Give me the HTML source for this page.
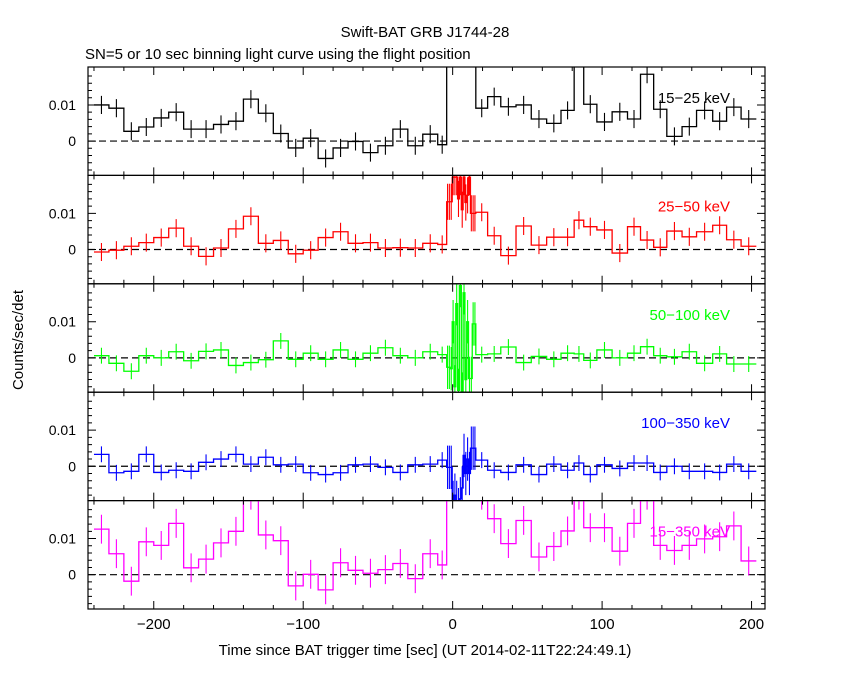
<!DOCTYPE html>
<html><head><meta charset="utf-8"><style>
body{margin:0;background:#fff;}
svg text{font-family:"Liberation Sans",sans-serif;}
</style></head><body>
<svg id="chart" width="850" height="680" xmlns="http://www.w3.org/2000/svg">
<rect width="850" height="680" fill="#fff"/>
<text x="425" y="37" font-size="15" text-anchor="middle">Swift-BAT GRB J1744-28</text>
<text x="85" y="59" font-size="15">SN=5 or 10 sec binning light curve using the flight position</text>
<text transform="translate(23,340) rotate(-90)" font-size="15" text-anchor="middle">Counts/sec/det</text>
<text x="425" y="655" font-size="15" text-anchor="middle">Time since BAT trigger time [sec] (UT 2014-02-11T22:24:49.1)</text>
<g id="plots"></g>
</svg>
<script>
const edges=[-240,-230,-220,-210,-200,-190,-180,-170,-160,-150,-140,-130,-120,-110,-100,-90,-80,-70,-60,-50,-40,-30,-20,-10,-4,
-2.8,-1.6,-0.3,0.9,2.1,3.3,4.5,5.8,7.0,8.2,9.4,10.6,11.9,13.1,14.3,15.5,
23.4,32.2,42.4,52.6,62.9,72.5,81.3,87.7,96.5,106.7,117,125.7,134.5,143.3,153.5,163.2,174,183.3,193,203.2];
const bandLabels=["15\u221225 keV","25\u221250 keV","50\u2212100 keV","100\u2212350 keV","15\u2212350 keV"];
const bandColors=["#000000","#ff0000","#00ff00","#0000ff","#ff00ff"];
const vals15_25=[10.0,9.1,2.7,3.9,6.4,8.0,3.3,3.3,4.6,5.5,11.6,7.7,2.1,-1.9,0.8,-4.8,-1.9,-0.1,-3.2,-1.3,3.3,-1.3,1.9,-1.0,
25,25,25,25,25,25,25,25,25,25,25,25,25,25,25,25,
9.1,12.3,9.5,10.0,6.1,4.9,8.5,30,10.2,5.3,8.1,6.1,18.5,8.8,1.3,4.0,8.5,5.5,9.4,6.1];
const vals25_50=[-0.7,-0.2,0.9,1.9,3.3,5.9,0.9,-1.9,0.4,5.7,9.2,1.7,2.5,-1.2,-0.2,3.3,4.9,1.7,1.9,0.4,0.5,0.4,1.7,1.4,
13.2,13.2,13.2,20,20,20,14,20,11,20,13,15,20,10,10,10,
10.3,3.8,-1.7,6.5,1.2,3.4,3.4,8.1,6.3,5.4,-1.0,6.3,2.6,0.6,5.1,3.5,4.9,6.7,2.7,0.9];
const vals50_100=[0.6,-1.5,-3.7,0.6,0,1.7,-0.8,1.8,2.2,-2.1,-1.3,-0.5,4.7,-0.4,1.3,-0.4,2.2,-0.4,1.3,2.8,0.6,0,1.7,0.9,
-2.6,-2.6,-3,10,-8,15,-9,20,-10,18,-6,10,-5.7,-5.7,9.4,9.4,
0.9,1.1,3.0,-1.3,0.4,-0.4,1.3,1.1,-0.7,2.2,0,1.3,3.1,0.6,0.3,1.7,-1.5,1.1,-1.7,-1.7];
const vals100_350=[3.3,-1.8,-1.4,3.3,-1.7,-1.1,-1.4,1.1,2.0,3.3,0.6,2.5,0.4,0.6,-1.8,-2.3,-1.8,0.4,0.6,-0.3,-1.7,0.4,0.6,1.7,
-0.3,-0.3,-0.3,-10,-8,-10,-12,-9,-6,3,-2,2,-2,5,5,5,
1.7,-1.1,-1.7,0.4,-2.3,0.6,-1.1,0.9,-2.3,0.4,-0.6,0.9,0.9,-1.7,0,-1.4,-1.4,-1.7,0.6,-1.4];
const vals15_350=[12.6,5.8,-1.8,9.1,8.1,14.2,1.9,4.3,8.8,12.0,22,11.0,9.4,-3.1,0.1,-4.2,3.3,1.2,0.4,1.4,3.1,-1.1,5.8,2.7,
22,22,22,22,22,22,22,22,22,22,22,22,22,22,22,22,
22,15.5,8.6,15,4.9,7.8,12.1,22,13,13,6.5,14.2,22,8.1,6.7,8.1,9.9,10.5,13.5,3.8];
const errBase=[2.5,2.5,2.2,2.2,4.0];
const errSpike=[0.5,5,6,6,0.5];
const xTicks=[-200,-100,0,100,200];
const yTicks=[0,0.01];
const yTickLabels=["0","0.01"];

const series=[vals15_25,vals25_50,vals50_100,vals100_350,vals15_350];
const L=88,R=765,T0=67,PH=108.4,X0=-244,X1=209,Y0=-0.0095,Y1=0.0205;
const NS="http://www.w3.org/2000/svg";
const xs=t=>L+(t-X0)/(X1-X0)*(R-L);
function ysFor(i){const top=T0+i*PH;return v=>top+(Y1-v)/(Y1-Y0)*PH;}
function mk(tag,attrs,parent){const e=document.createElementNS(NS,tag);for(const k in attrs)e.setAttribute(k,attrs[k]);parent.appendChild(e);return e;}
const root=document.getElementById('plots');
const defs=mk('defs',{},root);
series.forEach((vals,i)=>{
  const top=T0+i*PH,bot=top+PH,ys=ysFor(i),col=bandColors[i];
  const g=mk('g',{},root);
  
  
  const cp=mk('clipPath',{id:'cp'+i},defs);
  mk('rect',{x:L,y:top,width:R-L,height:PH},cp);
  const dg=mk('g',{'clip-path':'url(#cp'+i+')'},g);
  const z=mk('line',{x1:L,x2:R,y1:ys(0),y2:ys(0),stroke:'#000','stroke-dasharray':'7,4','stroke-width':1.2},dg);
  
  
  let d='M'+xs(edges[0])+','+ys(vals[0]/1000);
  for(let k=0;k<vals.length;k++){
    if(k>0)d+='V'+ys(vals[k]/1000);
    d+='H'+xs(edges[k+1]);
  }
  const p=mk('path',{d:d,fill:'none',stroke:col,'stroke-width':1.3},dg);
  
  
  let ed='';
  for(let k=0;k<vals.length;k++){
    const c=(edges[k]+edges[k+1])/2;
    const e=(k>=24&&k<40?errSpike[i]:errBase[i])/1000;
    ed+='M'+xs(c)+','+ys(vals[k]/1000-e)+'V'+ys(vals[k]/1000+e);
  }
  const eb=mk('path',{d:ed,fill:'none',stroke:col,'stroke-width':1.1},dg);
  
  
  const fr=mk('rect',{x:L,y:top,width:R-L,height:PH,fill:'none',stroke:'#000','stroke-width':1.2},g);
  
  
  let td='';
  for(let t=-240;t<=200;t+=20){
    const len=(t%100===0)?8:4;
    td+='M'+xs(t)+','+bot+'v'+(-len)+'M'+xs(t)+','+top+'v'+len;
  }
  for(let v=-0.008;v<=0.02;v+=0.002){
    const vv=Math.round(v*1000);
    const len=(vv%10===0)?8:4;
    td+='M'+L+','+ys(v)+'h'+len+'M'+R+','+ys(v)+'h'+(-len);
  }
  const tk=mk('path',{d:td,stroke:'#000','stroke-width':1,fill:'none'},g);
  
  
  yTicks.forEach((v,j)=>{
    const tx=mk('text',{x:76,y:ys(v)+5,'font-size':14,'text-anchor':'end'},g);
    tx.textContent=yTickLabels[j];
    
    
  });
  const lb=mk('text',{x:730,y:top+36,'font-size':15,'text-anchor':'end',fill:col},g);
  lb.textContent=bandLabels[i];
  
  
});
const botY=T0+5*PH;
xTicks.forEach(t=>{
  const tx=mk('text',{x:xs(t),y:botY+20,'font-size':15,'text-anchor':'middle'},root);
  tx.textContent=t<0?'\u2212'+(-t):String(t);
  
  
});
</script>
</body></html>
